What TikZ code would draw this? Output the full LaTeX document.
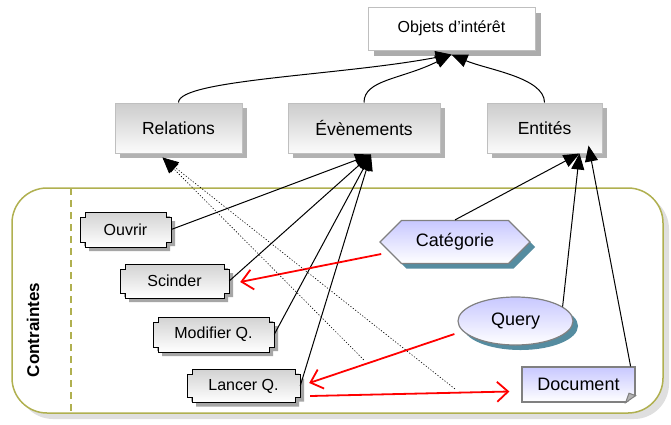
\documentclass[tikz,border=0pt]{standalone}
\usepackage{fontspec}
\setmainfont{Liberation Sans}
\usepackage{xcolor}
\usepackage{tikz}
\usetikzlibrary{shapes,arrows.meta,positioning,calc,shadows,backgrounds}

\definecolor{cadre}{RGB}{176,176,80}
\definecolor{lavande}{RGB}{200,200,255}
\definecolor{ombrebleue}{RGB}{85,140,160}

\tikzset{
    objbox/.style={draw=gray!50, fill=white, line width=1pt, minimum width=167pt, minimum height=43pt,
        font=\fontsize{16pt}{19pt}\selectfont,
        drop shadow={fill=gray!65, opacity=1, shadow xshift=6pt, shadow yshift=-6pt}},
    topbox/.style={draw=gray!50, line width=1pt, top color=gray!40, bottom color=gray!3, minimum height=50pt,
        font=\fontsize{17.5pt}{21pt}\selectfont,
        drop shadow={fill=gray!60, opacity=1, shadow xshift=5pt, shadow yshift=-5pt}},
    tagtext/.style={inner sep=0pt, font=\fontsize{16pt}{19pt}\selectfont},
    tagshape/.style={draw=black, line width=0.8pt, top color=gray!35, bottom color=white,
        drop shadow={fill=gray!70, opacity=1, shadow xshift=4pt, shadow yshift=-4pt}},
    concept/.style={draw=gray, line width=1.2pt, top color=lavande, bottom color=white, inner sep=0pt,
        font=\fontsize{18pt}{21pt}\selectfont,
        drop shadow={fill=ombrebleue, opacity=1, shadow xshift=5pt, shadow yshift=-5pt}},
    docbox/.style={draw=gray, line width=1.2pt, top color=lavande, bottom color=white, inner sep=0pt,
        minimum width=113pt, minimum height=35pt, font=\fontsize{18pt}{21pt}\selectfont},
    link/.style={line width=1pt, -{Triangle[length=16pt,width=13pt]}},
    dlink/.style={line width=0.6pt, dash pattern=on 1.2pt off 1.8pt, -{Triangle[length=16pt,width=13pt]}},
    redlink/.style={red, line width=1.8pt, -{Straight Barb[length=11pt,width=20pt]}}
}

\begin{document}
\begin{tikzpicture}[x=1pt, y=-1pt]
    \useasboundingbox (0,0) rectangle (671,424);

    % Objets d'interet
    \node[objbox] (obj) at (451.5,28.5) {Objets d'intérêt};
    \node[topbox, minimum width=127pt] (rel) at (178.5,128) {Relations};
    \node[topbox, minimum width=152pt] (evt) at (364,128) {Évènements};
    \node[topbox, minimum width=115pt] (ent) at (544.5,128) {Entités};

    % Contraintes
    \node[tagtext, minimum width=91pt, minimum height=35pt] (ouv) at (125.5,229.5) {Ouvrir};
    \node[tagtext, minimum width=109pt, minimum height=34pt] (sci) at (174.5,281) {Scinder};
    \node[tagtext, minimum width=121pt, minimum height=35pt] (mod) at (213.5,334.5) {Modifier Q.};
    \node[tagtext, minimum width=113pt, minimum height=33pt] (lan) at (243.5,386) {Lancer Q.};
    \node[rotate=90, font=\bfseries\fontsize{17pt}{20pt}\selectfont] (ctr) at (33,330) {Contraintes};

    \node[concept, signal, signal to=west and east, signal pointer angle=90,
        minimum width=150pt, minimum height=43pt] (cat) at (455,242) {Catégorie};
    \node[concept, ellipse, minimum width=115pt, minimum height=48pt] (qry) at (515.5,321) {Query};
    \node[docbox] (doc) at (578.5,384.5) {Document};
    \fill[white] ($(doc.south east)+(1,-7)$) -- ($(doc.south east)+(1,1)$) -- ($(doc.south east)+(-10,1)$) -- cycle;
    \draw[gray, line width=1pt, fill=gray!60] ($(doc.south east)+(0,-7)$) -- ($(doc.south east)+(-10,0)$)
        -- ($(doc.south east)+(-6.6,-9.4)$) -- cycle;

    \begin{pgfonlayer}{background}
        \draw[cadre, line width=1.5pt, fill=white, rounded corners=35pt,
            drop shadow={fill=gray!25, opacity=1, shadow xshift=6pt, shadow yshift=-6pt}] (12,188) rectangle (663,413);
        \draw[cadre, line width=1.5pt, dash pattern=on 7pt off 5pt] (71,188) -- (71,413);
        \foreach \n/\a/\b in {ouv/45.5/17.5, sci/54.5/17, mod/60.5/17.5, lan/56.5/16.5}
            \draw[tagshape, shift={(\n)}] (-\a+5,-\b) -- (\a-5,-\b) -- (\a-5,-\b+5) -- (\a,-\b+5) -- (\a,\b-5)
                -- (\a-5,\b-5) -- (\a-5,\b) -- (-\a+5,\b) -- (-\a+5,\b-5) -- (-\a,\b-5) -- (-\a,-\b+5)
                -- (-\a+5,-\b+5) -- cycle;
    \end{pgfonlayer}

    % pointes
    \coordinate (objtip) at ($(obj.south)+(0,4)$);
    \coordinate (reltip) at ($(rel.south)+(-16,4)$);
    \coordinate (evtip) at ($(evt.south)+(7,1)$);
    \coordinate (entip) at ($(ent.south)+(35,0)$);
    \coordinate (entip2) at ($(ent.south)+(44,-8)$);

    \draw[link] (rel.north) .. controls ($(rel.north)+(0,-23)$) and ($(objtip)+(-110,21)$) .. (objtip);
    \draw[link] (evt.north) .. controls ($(evt.north)+(0,-23)$) and ($(objtip)+(-50,25)$) .. (objtip);
    \draw[link] (ent.north) .. controls ($(ent.north)+(0,-25)$) and ($(objtip)+(35,15)$) .. (objtip);

    \draw[link] (ouv.east) -- (evtip);
    \draw[link] (sci.east) -- (evtip);
    \draw[link] (mod.east) -- (evtip);
    \draw[link] (lan.east) -- (evtip);
    \draw[link] (cat.north) -- (entip);
    \draw[link] (qry.17) -- (entip);
    \draw[link] ($(doc.north east)+(-5,0)$) -- (entip2);

    % relations
    \draw[redlink] ($(cat.west)+(2,12)$) -- ($(sci.east)+(11,1)$);
    \draw[redlink] ($(qry.west)+(-3,13)$) -- coordinate[pos=0.6] (qlan) ($(lan.east)+(9,-3)$);
    \draw[redlink] ($(lan.east)+(10,10)$) -- coordinate[pos=0.75] (ldoc) ($(doc.west)+(-12,7)$);
    \draw[dlink, shorten <=5pt] (qlan) -- (reltip);
    \draw[dlink, shorten <=6pt] (ldoc) -- (reltip);
\end{tikzpicture}
\end{document}
